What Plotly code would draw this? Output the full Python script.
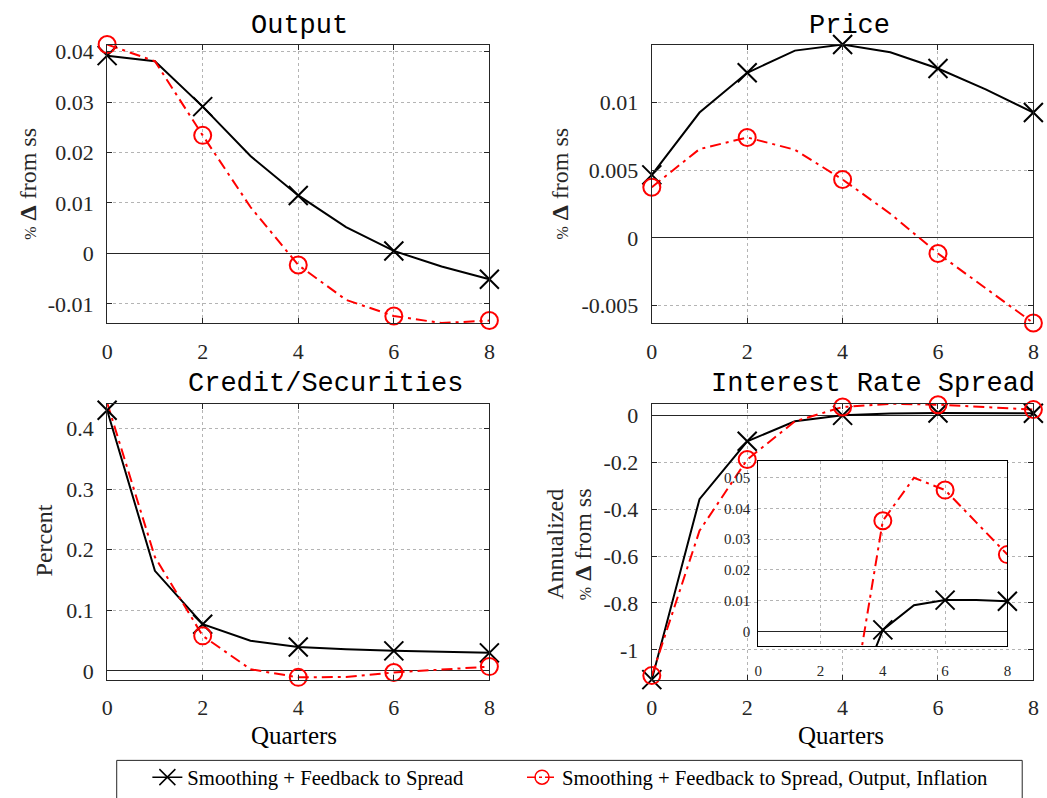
import plotly.graph_objects as go

# ---------------- data ----------------
quarters = [0, 1, 2, 3, 4, 5, 6, 7, 8]
tick_quarters = [0, 2, 4, 6, 8]

series_names = ["Smoothing + Feedback to Spread",
                "Smoothing + Feedback to Spread, Output, Inflation"]

output_spread = [0.0392, 0.0381, 0.0291, 0.0193, 0.0115, 0.0052, 0.0005, -0.0026, -0.0051]
output_all = [0.0414, 0.0381, 0.0234, 0.0092, -0.0023, -0.0092, -0.0124, -0.0138, -0.0133]

price_spread = [0.00466, 0.00927, 0.01221, 0.01385, 0.0143, 0.01373, 0.01253, 0.01098, 0.00927]
price_all = [0.00375, 0.00657, 0.00743, 0.00652, 0.00432, 0.00179, -0.00115, -0.00373, -0.0063]

credit_spread = [0.4307, 0.1652, 0.0770, 0.0498, 0.0395, 0.0355, 0.0330, 0.0315, 0.0297]
credit_all = [0.443, 0.188, 0.0578, 0.0026, -0.0108, -0.0100, -0.0028, 0.0020, 0.0070]

rate_spread = [-1.127, -0.357, -0.110, -0.025, 0.0005, 0.0085, 0.0102, 0.0102, 0.0098]
rate_all = [-1.110, -0.492, -0.188, -0.025, 0.036, 0.050, 0.046, 0.0355, 0.025]

output_ticks = [-0.01, 0, 0.01, 0.02, 0.03, 0.04]
output_ticktext = ["-0.01", "0", "0.01", "0.02", "0.03", "0.04"]
price_ticks = [-0.005, 0, 0.005, 0.01]
price_ticktext = ["-0.005", "0", "0.005", "0.01"]
credit_ticks = [0, 0.1, 0.2, 0.3, 0.4]
credit_ticktext = ["0", "0.1", "0.2", "0.3", "0.4"]
rate_ticks = [-1, -0.8, -0.6, -0.4, -0.2, 0]
rate_ticktext = ["-1", "-0.8", "-0.6", "-0.4", "-0.2", "0"]
inset_ticks = [0, 0.01, 0.02, 0.03, 0.04, 0.05]
inset_ticktext = ["0", "0.01", "0.02", "0.03", "0.04", "0.05"]

titles = ["Output", "Price", "Credit/Securities", "Interest Rate Spread"]

# ---------------- styling ----------------
W, H = 1047, 798
SERIF = "Liberation Serif, Times New Roman, serif"
MONO = "Liberation Mono, Courier New, monospace"
AX = "#262626"
BLACK = "#000000"
RED = "#ff0000"
RED_DASH = "11px,5px,3px,5px"


def px_x(p):
    return p / W


def px_y(p):
    return 1 - p / H


fig = go.Figure()

panels = [
    # (axis suffix, black series, red series)
    ("", output_spread, output_all),
    ("2", price_spread, price_all),
    ("3", credit_spread, credit_all),
    ("4", rate_spread, rate_all),
    ("5", rate_spread, rate_all),   # inset zoom of the spread panel
]

for suffix, blk, red in panels:
    xa, ya = "x" + suffix, "y" + suffix
    inset = suffix == "5"
    even = [i for i in range(len(quarters)) if quarters[i] % 2 == 0]
    # lines through every quarter
    fig.add_trace(go.Scatter(x=quarters, y=blk, mode="lines", xaxis=xa, yaxis=ya,
                             line=dict(color=BLACK, width=2), showlegend=False,
                             hoverinfo="skip"))
    fig.add_trace(go.Scatter(x=quarters, y=red, mode="lines", xaxis=xa, yaxis=ya,
                             line=dict(color=RED, width=2, dash=RED_DASH),
                             showlegend=False, hoverinfo="skip"))
    # markers every second quarter
    fig.add_trace(go.Scatter(x=[quarters[i] for i in even], y=[blk[i] for i in even],
                             mode="markers", xaxis=xa, yaxis=ya, showlegend=False,
                             marker=dict(symbol="x-thin-open", size=19, color=BLACK,
                                         line=dict(color=BLACK, width=2)),
                             hoverinfo="skip", cliponaxis=False))
    fig.add_trace(go.Scatter(x=[quarters[i] for i in even], y=[red[i] for i in even],
                             mode="markers", xaxis=xa, yaxis=ya, showlegend=False,
                             marker=dict(symbol="circle-open", size=17, color=RED,
                                         line=dict(color=RED, width=2)),
                             hoverinfo="skip", cliponaxis=inset))

# legend entries
fig.add_trace(go.Scatter(x=[None], y=[None], mode="lines+markers", name=series_names[0],
                         line=dict(color=BLACK, width=1.5), legend="legend",
                         marker=dict(symbol="x-thin-open", size=16, color=BLACK,
                                     line=dict(color=BLACK, width=1.5))))
fig.add_trace(go.Scatter(x=[None], y=[None], mode="lines+markers", name=series_names[1],
                         line=dict(color=RED, width=1.5, dash="dashdot"), legend="legend2",
                         marker=dict(symbol="circle-open", size=14, color=RED,
                                     line=dict(color=RED, width=1.5))))

# panel domains in pixels
left_x = (102.3, 489.0)
right_x = (653.3, 1039.3)
top_y = (40.0, 321.7)
bot_y = (403.3, 682.3)
inset_x = (761.0, 1013.0)
inset_y = (461.7, 648.5)

domains = {
    "": (left_x, top_y),
    "2": (right_x, top_y),
    "3": (left_x, bot_y),
    "4": (right_x, bot_y),
}
yspecs = {
    "": ([-0.0138, 0.0414], output_ticks, output_ticktext),
    "2": ([-0.0063, 0.0143], price_ticks, price_ticktext),
    "3": ([-0.0145, 0.4413], credit_ticks, credit_ticktext),
    "4": ([-1.127, 0.05], rate_ticks, rate_ticktext),
}

grid = dict(showgrid=True, gridcolor="#b4b4b4", gridwidth=1, griddash="3px,3px")
common = dict(showline=True, linecolor=AX, linewidth=1.2, mirror="ticks",
              ticks="inside", ticklen=5, tickcolor=AX, tickwidth=1,
              tickfont=dict(family=SERIF, size=22, color=AX), **grid)

layout = {}
for suffix, (xd, yd) in domains.items():
    yr, yt, ytt = yspecs[suffix]
    layout["xaxis" + suffix] = dict(
        domain=[px_x(xd[0]), px_x(xd[1])], range=[0, 8], anchor="y" + suffix,
        tickvals=tick_quarters, ticktext=[str(v) for v in tick_quarters],
        zeroline=False, ticklabelstandoff=8, **common)
    layout["yaxis" + suffix] = dict(
        domain=[px_y(yd[1]), px_y(yd[0])], range=yr, anchor="x" + suffix,
        tickvals=yt, ticktext=ytt, zeroline=True, zerolinecolor=AX, zerolinewidth=1.2,
        ticklabelstandoff=8, **common)

# inset axes
inset_common = dict(showline=True, linecolor=BLACK, linewidth=1.2, mirror=True,
                    ticks="", tickfont=dict(family=SERIF, size=15, color=AX), **grid)
layout["xaxis5"] = dict(domain=[px_x(inset_x[0]), px_x(inset_x[1])], range=[0, 8],
                        anchor="y5", tickvals=tick_quarters,
                        ticktext=[str(v) for v in tick_quarters], zeroline=False,
                        ticklabelstandoff=11, **inset_common)
layout["yaxis5"] = dict(domain=[px_y(inset_y[1]), px_y(inset_y[0])], range=[-0.0048, 0.0553],
                        anchor="x5", tickvals=inset_ticks, ticktext=inset_ticktext,
                        zeroline=True, zerolinecolor=AX, zerolinewidth=1.2,
                        ticklabelstandoff=4, **inset_common)

annotations = []
# panel titles
title_pos = [(297, 21), (853, 21), (323, 383), (877, 383)]
for t, (cx, cy) in zip(titles, title_pos):
    annotations.append(dict(text=t, x=px_x(cx), y=px_y(cy), xref="paper", yref="paper",
                            showarrow=False, xanchor="center", yanchor="middle",
                            font=dict(family=MONO, size=27, color=BLACK)))

delta_label = "<span style='font-size:16px'>%</span> <b>Δ</b> from ss"
ylabels = [
    (delta_label, 22, 181),
    (delta_label, 560, 181),
    ("Percent", 38, 542),
    ("Annualized", 555, 545),
    (delta_label, 584, 545),
]
for txt, cx, cy in ylabels:
    annotations.append(dict(text=txt, x=px_x(cx), y=px_y(cy), xref="paper", yref="paper",
                            showarrow=False, textangle=-90, xanchor="center",
                            yanchor="middle", font=dict(family=SERIF, size=24, color=AX)))

for cx in (291, 845):
    annotations.append(dict(text="Quarters", x=px_x(cx), y=px_y(739), xref="paper",
                            yref="paper", showarrow=False, xanchor="center",
                            yanchor="middle", font=dict(family=SERIF, size=25, color=BLACK)))

# legend frame
shapes = [dict(type="rect", xref="paper", yref="paper", x0=px_x(112), x1=px_x(1028),
               y0=px_y(805), y1=px_y(764), line=dict(color=AX, width=1),
               fillcolor="white", layer="below")]

legend_style = dict(orientation="h", yanchor="middle", y=px_y(781), xanchor="left",
                    bgcolor="rgba(0,0,0,0)", borderwidth=0,
                    font=dict(family=SERIF, size=20.7, color=BLACK))

fig.update_layout(
    width=W, height=H,
    margin=dict(l=0, r=0, t=0, b=0),
    paper_bgcolor="white", plot_bgcolor="white",
    showlegend=True,
    legend=dict(x=px_x(143), **legend_style),
    legend2=dict(x=px_x(522), **legend_style),
    annotations=annotations,
    shapes=shapes,
    **layout,
)

fig.write_html("out.html")
